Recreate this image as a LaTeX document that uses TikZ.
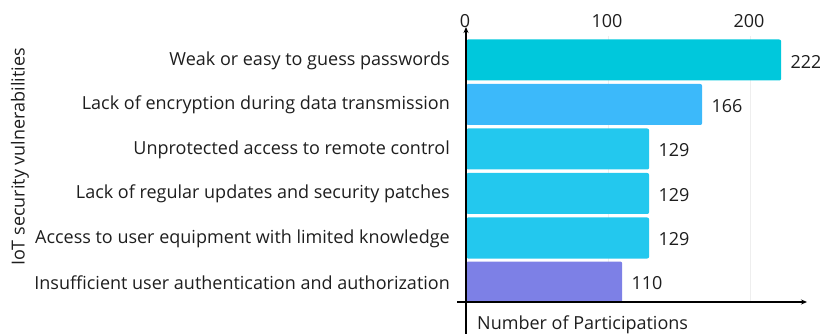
\documentclass[tikz,border=0pt]{standalone}
\usepackage{fontspec}
\setmainfont{Open Sans}
\usetikzlibrary{arrows.meta}
\definecolor{cA}{RGB}{0,200,220}
\definecolor{cB}{RGB}{60,185,250}
\definecolor{cC}{RGB}{35,200,238}
\definecolor{cD}{RGB}{125,128,230}
\definecolor{txt}{RGB}{30,30,30}
\definecolor{grid}{RGB}{238,238,238}
\tikzset{
  lbl/.style={inner sep=0pt, text=txt, font=\fontsize{18}{21}\selectfont},
  bar/.style={fill=#1, draw=none, rounded corners=2pt, anchor=west, minimum height=41pt, inner sep=0pt},
  cat/.style={lbl, anchor=east},
  val/.style={lbl, anchor=west},
  tick/.style={lbl, anchor=center},
  axis/.style={draw=black, line width=1.3pt, -{Stealth[length=6pt,width=5pt]}},
}
\begin{document}
\begin{tikzpicture}[x=1pt,y=-1pt]
\useasboundingbox (0,0) rectangle (820,334);
% grid lines
\draw[grid, line width=0.8pt] (608,36) -- (608,302);
\draw[grid, line width=0.8pt] (750,36) -- (750,302);
% bars (scale 1.42 px per unit, origin 466)
\node[bar=cA, minimum width=315pt] (b1) at (466,60) {};
\node[bar=cB, minimum width=236pt] (b2) at (466,104.5) {};
\node[bar=cC, minimum width=183pt] (b3) at (466,149) {};
\node[bar=cC, minimum width=183pt] (b4) at (466,193.5) {};
\node[bar=cC, minimum width=183pt] (b5) at (466,238) {};
\node[bar=cD, minimum width=156pt] (b6) at (466,282) {};
% values
\node[val] (v1) at ([xshift=9pt,yshift=-1.5pt]b1.east) {222};
\node[val] (v2) at ([xshift=9pt,yshift=-1.5pt]b2.east) {166};
\node[val] (v3) at ([xshift=9pt,yshift=-1.5pt]b3.east) {129};
\node[val] (v4) at ([xshift=9pt,yshift=-1.5pt]b4.east) {129};
\node[val] (v5) at ([xshift=9pt,yshift=-1.5pt]b5.east) {129};
\node[val] (v6) at ([xshift=9pt,yshift=-1.5pt]b6.east) {110};
% categories
\node[cat] (l1) at (450,60.5) {Weak or easy to guess passwords};
\node[cat] (l2) at (450,105) {Lack of encryption during data transmission};
\node[cat] (l3) at (450,149.5) {Unprotected access to remote control};
\node[cat] (l4) at (450,194) {Lack of regular updates and security patches};
\node[cat] (l5) at (450,238.5) {Access to user equipment with limited knowledge};
\node[cat] (l6) at (450,282.5) {Insufficient user authentication and authorization};
% ticks
\node[tick] (t0) at (465,21) {0};
\node[tick] (t1) at (607,21) {100};
\node[tick] (t2) at (749,21) {200};
% axes
\coordinate (ybot) at (466,334);
\coordinate (ytop) at (466,27);
\coordinate (xl) at (457,302);
\coordinate (xr) at (807,302);
\draw[axis] (ybot) -- (ytop);
\draw[axis] (xl) -- (xr);
% axis titles
\node[lbl, anchor=west] (xt) at (477,325) {Number of Participations};
\node[lbl, rotate=90] (yt) at (20,157) {IoT security vulnerabilities};
\end{tikzpicture}
\end{document}
